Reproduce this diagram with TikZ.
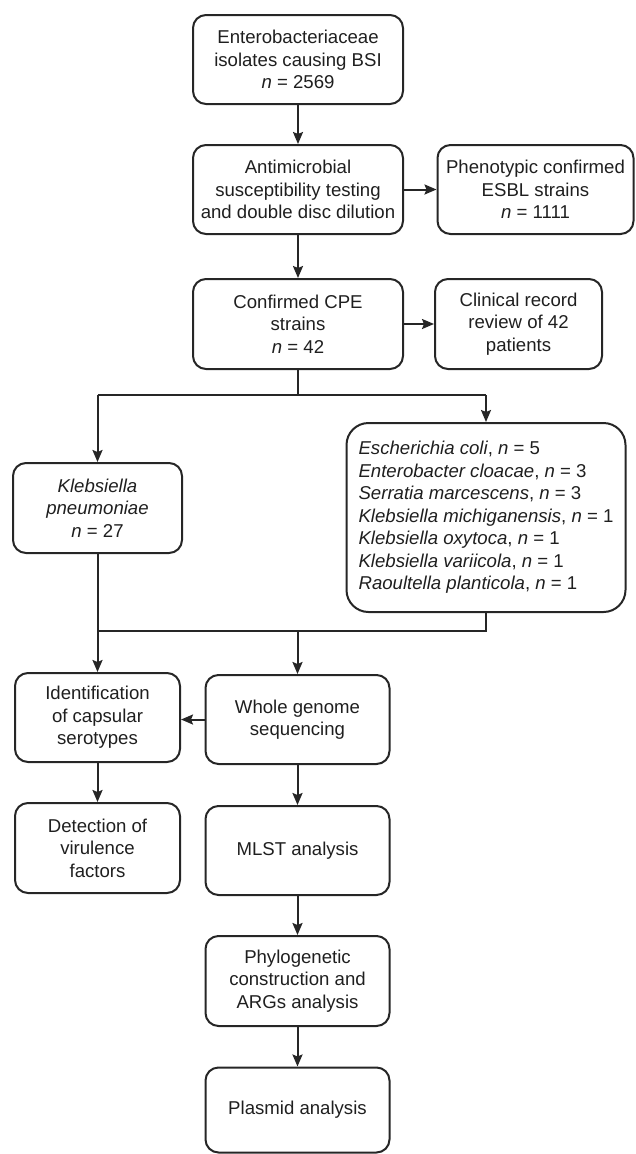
\documentclass[tikz,border=0pt]{standalone}
\usepackage{fontspec}
\setmainfont{Liberation Sans}
\usetikzlibrary{arrows.meta}
\begin{document}
\begin{tikzpicture}[x=1pt,y=-1pt,
  box/.style={draw=black!85, line width=2pt, rounded corners=13pt, align=center,
    inner sep=0pt, font=\fontsize{18.6}{22.5}\selectfont, text=black!88},
  arr/.style={draw=black!85, line width=2pt, -{Stealth[length=12pt,width=10pt,inset=2pt]}},
  ln/.style={draw=black!85, line width=2pt}]
\useasboundingbox (0,0) rectangle (635,1154);
\node[box, minimum width=210pt, minimum height=89pt] (b1) at (298,59.5)
  {Enterobacteriaceae\\isolates causing BSI\\\textit{n} = 2569};
\node[box, minimum width=210pt, minimum height=89pt] (b2) at (298,189.5)
  {Antimicrobial\\susceptibility testing\\and double disc dilution};
\node[box, minimum width=196pt, minimum height=89pt] (esbl) at (535.5,189.5)
  {Phenotypic confirmed\\ESBL strains\\\textit{n} = 1111};
\node[box, minimum width=210pt, minimum height=90pt] (cpe) at (298,324)
  {Confirmed CPE\\strains\\\textit{n} = 42};
\node[box, minimum width=167pt, minimum height=90pt] (clin) at (518.5,324)
  {Clinical record\\review of 42\\patients};
\node[box, minimum width=169pt, minimum height=90pt] (kleb) at (97.5,508)
  {\textit{Klebsiella}\\\textit{pneumoniae}\\\textit{n} = 27};
\node[box, rounded corners=22pt, align=left, minimum width=279pt, minimum height=189pt] (oth) at (486,517.5)
  {\textit{Escherichia coli}, \textit{n} = 5\\
   \textit{Enterobacter cloacae}, \textit{n} = 3\\
   \textit{Serratia marcescens}, \textit{n} = 3\\
   \textit{Klebsiella michiganensis}, \textit{n} = 1\\
   \textit{Klebsiella oxytoca}, \textit{n} = 1\\
   \textit{Klebsiella variicola}, \textit{n} = 1\\
   \textit{Raoultella planticola}, \textit{n} = 1};
\node[box, minimum width=165pt, minimum height=89pt] (ident) at (97.5,717.5)
  {Identification\\of capsular\\serotypes};
\node[box, minimum width=184pt, minimum height=89pt] (wgs) at (297.5,719.5)
  {Whole genome\\sequencing};
\node[box, minimum width=165pt, minimum height=90pt] (det) at (97.5,848)
  {Detection of\\virulence\\factors};
\node[box, minimum width=184pt, minimum height=89pt] (mlst) at (297.5,850.5)
  {MLST analysis};
\node[box, minimum width=184pt, minimum height=90pt] (phy) at (297.5,981)
  {Phylogenetic\\construction and\\ARGs analysis};
\node[box, minimum width=184pt, minimum height=85pt] (pla) at (297.5,1110)
  {Plasmid analysis};
\coordinate (br) at (298,395);
\coordinate (brl) at (97.5,395);
\coordinate (brr) at (486,395);
\coordinate (mgl) at (97.5,631);
\coordinate (mgr) at (486,631);
\coordinate (mg) at (297.5,631);
\draw[arr] (b1) -- (b2);
\draw[arr] (b2) -- (esbl);
\draw[arr] (b2) -- (cpe);
\draw[arr] (cpe) -- (clin);
\draw[ln] (cpe.south) -- (br);
\draw[ln] (brl) -- (brr);
\draw[arr] (brl) -- (kleb.north);
\draw[arr] (brr) -- (oth.north);
\draw[ln] (oth.south) -- (mgr) -- (mgl);
\draw[arr] (kleb.south) -- (ident.north);
\draw[arr] (mg) -- (wgs.north);
\draw[arr] (wgs.west) -- (wgs.west -| ident.east);
\draw[arr] (ident) -- (det);
\draw[arr] (wgs) -- (mlst);
\draw[arr] (mlst) -- (phy);
\draw[arr] (phy) -- (pla);
\end{tikzpicture}
\end{document}
